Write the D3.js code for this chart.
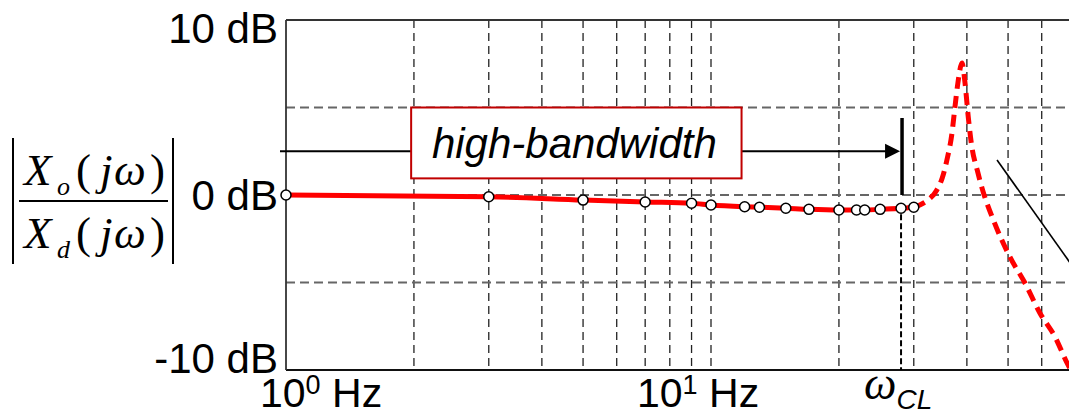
<!DOCTYPE html>
<html>
<head>
<meta charset="utf-8">
<script src="https://cdn.jsdelivr.net/npm/d3@7"></script>
<style>
  html, body { margin: 0; padding: 0; background: #fff; }
  svg { display: block; }
</style>
</head>
<body>
<svg id="chart"></svg>
<script>
// closed-loop magnitude, measured points (Hz, dB)
const measFreq = [1, 3, 5, 7, 9, 10, 12, 13, 15, 17, 20, 22, 23, 25, 28, 30];
const measDb = [0, -0.1, -0.29, -0.4, -0.47, -0.57, -0.67, -0.7, -0.76, -0.82, -0.86, -0.86, -0.86, -0.82, -0.76, -0.7];

// resonance beyond the bandwidth (dashed)
const resFreq = [30, 31, 32.4, 34, 35, 35.9, 36.9, 37.5, 38.1, 38.96, 39.6, 40.3, 41.1, 42.3, 43.6, 46.3, 50.5, 54.8, 59.4, 64.5, 69.2, 76];
const resDb = [-0.7, -0.57, -0.29, 0.29, 0.97, 2.0, 3.54, 5.03, 6.4, 7.54, 6.4, 4.46, 2.74, 1.43, 0.25, -1.5, -3.54, -5.03, -6.74, -8.11, -9.71, -11.2];

// -40 dB/dec asymptote
const asymFreq = [47.1, 76];
const asymDb = [2.0, -5.1];

const minorFreqs = [2, 3, 4, 5, 6, 7, 8, 9, 10, 20, 30, 40, 50, 60, 70, 80, 90];
const gridDb = [-5, 0, 5];
const yTicks = [10, 0, -10];
const yTickLabels = ['10 dB', '0 dB', '-10 dB'];
const xTicks = [1, 10];
const xTickExp = ['0', '1'];

const wCL = 28;

const width = 1069, height = 417;
const margin = {top: 20, left: 286};
const plotRight = 1136, plotBottom = 370;

const svg = d3.select('#chart')
  .attr('width', width)
  .attr('height', height);

const x = d3.scaleLog().domain([1, 100]).range([margin.left, plotRight]);
const y = d3.scaleLinear().domain([-10, 10]).range([plotBottom, margin.top]);

svg.append('defs').append('clipPath').attr('id', 'plotclip')
  .append('rect')
  .attr('x', margin.left).attr('y', margin.top)
  .attr('width', plotRight - margin.left).attr('height', plotBottom - margin.top);

const grid = svg.append('g').attr('class', 'grid');

grid.selectAll('line.v')
  .data(minorFreqs).enter().append('line')
  .attr('class', 'v')
  .attr('x1', d => x(d)).attr('x2', d => x(d))
  .attr('y1', y(10)).attr('y2', y(-10))
  .attr('stroke', '#222')
  .attr('stroke-width', 1.3)
  .attr('stroke-dasharray', '8,5');

grid.selectAll('line.h')
  .data(gridDb).enter().append('line')
  .attr('class', 'h')
  .attr('x1', x(1)).attr('x2', plotRight)
  .attr('y1', d => y(d)).attr('y2', d => y(d))
  .attr('stroke', '#666')
  .attr('stroke-width', 1.8)
  .attr('stroke-dasharray', '9,5');

// frame
svg.append('line')
  .attr('x1', x(1)).attr('x2', plotRight)
  .attr('y1', y(10)).attr('y2', y(10))
  .attr('stroke', '#333').attr('stroke-width', 2);
svg.append('line')
  .attr('x1', x(1)).attr('x2', plotRight)
  .attr('y1', y(-10)).attr('y2', y(-10))
  .attr('stroke', '#111').attr('stroke-width', 2);
svg.append('line')
  .attr('x1', x(1)).attr('x2', x(1))
  .attr('y1', y(10)).attr('y2', y(-10))
  .attr('stroke', '#333').attr('stroke-width', 1.8);

// y tick labels
const yLabelShift = [23, 15, 3];
svg.selectAll('text.ylab')
  .data(yTicks).enter().append('text')
  .attr('class', 'ylab')
  .attr('x', x(1) - 8)
  .attr('y', (d, i) => y(d) + yLabelShift[i])
  .attr('text-anchor', 'end')
  .attr('font-family', '"Liberation Sans", Arial, sans-serif')
  .attr('font-size', 42)
  .attr('fill', '#000')
  .text((d, i) => yTickLabels[i]);

// x tick labels
const xLabelShift = [-26, -74];
const xl = svg.selectAll('text.xlab')
  .data(xTicks).enter().append('text')
  .attr('class', 'xlab')
  .attr('x', (d, i) => x(d) + xLabelShift[i])
  .attr('y', 407)
  .attr('font-family', '"Liberation Sans", Arial, sans-serif')
  .attr('font-size', 41)
  .attr('fill', '#000');
xl.append('tspan').text('10');
xl.append('tspan').attr('dy', -13).attr('font-size', 27).text((d, i) => xTickExp[i]);
xl.append('tspan').attr('dy', 13).text(' Hz');

// y-axis title |Xo(jw)/Xd(jw)|
const title = svg.append('g')
  .attr('font-family', '"Liberation Serif", "Times New Roman", serif')
  .attr('fill', '#000');
title.append('line').attr('x1', 13).attr('x2', 13).attr('y1', 138).attr('y2', 264)
  .attr('stroke', '#000').attr('stroke-width', 2);
title.append('line').attr('x1', 173).attr('x2', 173).attr('y1', 138).attr('y2', 264)
  .attr('stroke', '#000').attr('stroke-width', 2);
title.append('line').attr('x1', 19).attr('x2', 168).attr('y1', 201).attr('y2', 201)
  .attr('stroke', '#000').attr('stroke-width', 2);

function frac(sub, yb) {
  const t = title.append('text').attr('font-size', 45);
  t.append('tspan').attr('x', 24).attr('y', yb).attr('font-style', 'italic').text('X');
  t.append('tspan').attr('x', 57).attr('y', yb + 10).attr('font-size', 26).attr('font-style', 'italic').text(sub);
  t.append('tspan').attr('x', 76).attr('y', yb).text('(');
  t.append('tspan').attr('x', 100).attr('y', yb).attr('font-style', 'italic').text('j');
  t.append('tspan').attr('x', 114).attr('y', yb).attr('font-style', 'italic').text('ω');
  t.append('tspan').attr('x', 150).attr('y', yb).text(')');
}
frac('o', 185);
frac('d', 248);

// curves
const plot = svg.append('g').attr('clip-path', 'url(#plotclip)');

const meas = measFreq.map((f, i) => ({f: f, db: measDb[i]}));
const res = resFreq.map((f, i) => ({f: f, db: resDb[i]}));

const line = d3.line()
  .x(d => x(d.f))
  .y(d => y(d.db))
  .curve(d3.curveMonotoneX);

plot.append('path')
  .datum(res)
  .attr('d', line)
  .attr('fill', 'none')
  .attr('stroke', '#ff0000')
  .attr('stroke-width', 5)
  .attr('stroke-dasharray', '12,7');

plot.append('path')
  .datum(meas)
  .attr('d', line)
  .attr('fill', 'none')
  .attr('stroke', '#ff0000')
  .attr('stroke-width', 5);

plot.append('line')
  .attr('x1', x(asymFreq[0])).attr('y1', y(asymDb[0]))
  .attr('x2', x(asymFreq[1])).attr('y2', y(asymDb[1]))
  .attr('stroke', '#000')
  .attr('stroke-width', 1.6);

// w_CL marker line
svg.append('line')
  .attr('x1', x(wCL)).attr('x2', x(wCL))
  .attr('y1', y(-1.1)).attr('y2', y(-10))
  .attr('stroke', '#000')
  .attr('stroke-width', 2)
  .attr('stroke-dasharray', '6,3');

svg.selectAll('circle.pt')
  .data(meas).enter().append('circle')
  .attr('class', 'pt')
  .attr('cx', d => x(d.f))
  .attr('cy', d => y(d.db))
  .attr('r', 5)
  .attr('fill', '#fff')
  .attr('stroke', '#000')
  .attr('stroke-width', 1.5);

// bandwidth annotation
const ann = {left: 1.97, right: 11.8, top: 5, bottom: 0.95, arrow: 2.5, barTop: 4.4};
svg.append('line')
  .attr('x1', x(1) - 6).attr('x2', x(ann.left))
  .attr('y1', y(ann.arrow)).attr('y2', y(ann.arrow))
  .attr('stroke', '#000').attr('stroke-width', 2);
svg.append('line')
  .attr('x1', x(ann.right)).attr('x2', x(wCL) - 14)
  .attr('y1', y(ann.arrow)).attr('y2', y(ann.arrow))
  .attr('stroke', '#000').attr('stroke-width', 2);
svg.append('path')
  .attr('d', `M${x(wCL) - 1},${y(ann.arrow)} L${x(wCL) - 16},${y(ann.arrow) - 7.5} L${x(wCL) - 16},${y(ann.arrow) + 7.5} Z`)
  .attr('fill', '#000');
svg.append('line')
  .attr('x1', x(wCL) + 1).attr('x2', x(wCL) + 1)
  .attr('y1', y(ann.barTop)).attr('y2', y(0))
  .attr('stroke', '#000').attr('stroke-width', 3.5);

svg.append('rect')
  .attr('x', x(ann.left)).attr('y', y(ann.top))
  .attr('width', x(ann.right) - x(ann.left))
  .attr('height', y(ann.bottom) - y(ann.top))
  .attr('fill', '#fff')
  .attr('stroke', '#c00000')
  .attr('stroke-width', 2);
svg.append('text')
  .attr('x', (x(ann.left) + x(ann.right)) / 2 - 2)
  .attr('y', 158)
  .attr('text-anchor', 'middle')
  .attr('font-family', '"Liberation Sans", Arial, sans-serif')
  .attr('font-style', 'italic')
  .attr('font-size', 42)
  .attr('fill', '#000')
  .text('high-bandwidth');

// w_CL label
const wl = svg.append('text')
  .attr('x', x(wCL) - 37)
  .attr('y', 399)
  .attr('fill', '#000');
wl.append('tspan')
  .attr('font-family', '"Liberation Serif", "Times New Roman", serif')
  .attr('font-style', 'italic')
  .attr('font-size', 46)
  .text('ω');
wl.append('tspan')
  .attr('dy', 10)
  .attr('font-family', '"Liberation Sans", Arial, sans-serif')
  .attr('font-style', 'italic')
  .attr('font-size', 28)
  .text('CL');
</script>
</body>
</html>
